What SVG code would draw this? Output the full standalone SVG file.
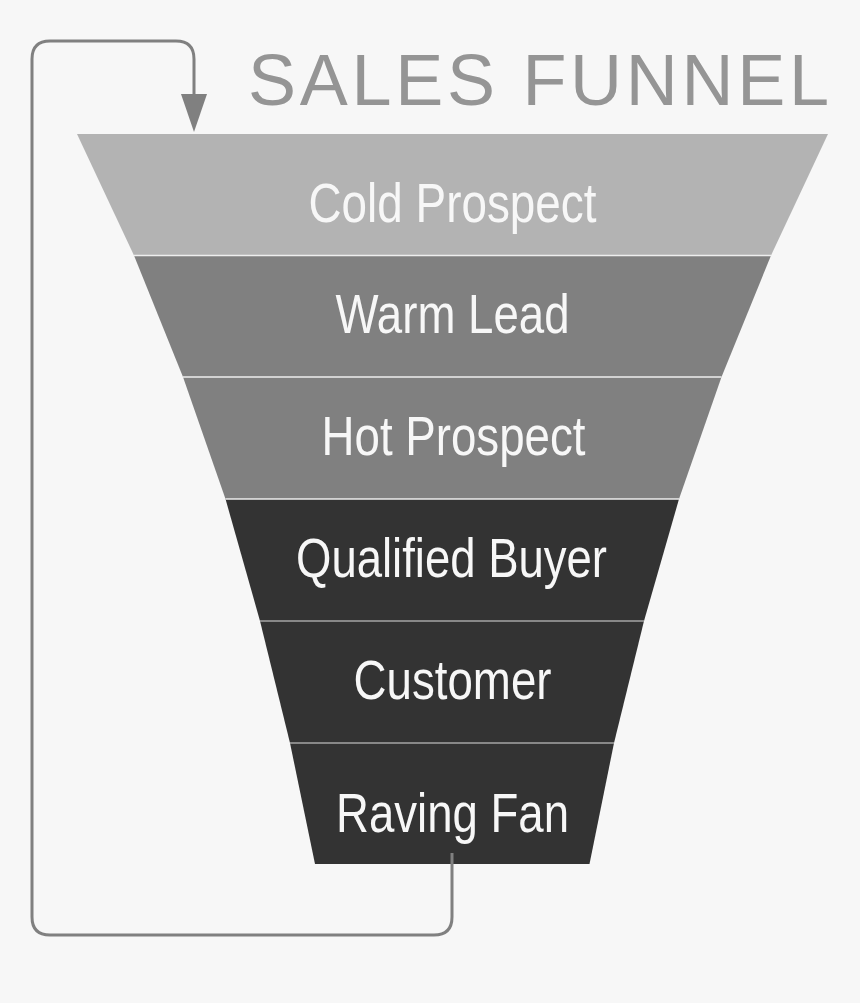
<svg xmlns="http://www.w3.org/2000/svg" width="860" height="1003" viewBox="0 0 860 1003">
<style>
.bg{fill:#f7f7f7}
.lbl{font-family:"Liberation Sans Narrow","Liberation Sans",Arial,sans-serif;font-size:56px;fill:#f7f7f7;text-anchor:middle}
.title{font-family:"Liberation Sans",Arial,sans-serif;font-size:72px;fill:#959595}
.light{fill:#b3b3b3}
.mid{fill:#808080}
.dark{fill:#333333}
.sepL{stroke:#eeeeee;stroke-width:1.5}
.sepD{stroke:#a6a6a6;stroke-width:1.5}
.conn{fill:none;stroke:#808080;stroke-width:3}
</style>
<defs>
<marker id="arrow" viewBox="0 0 38 26" refX="2" refY="13" markerWidth="38" markerHeight="26" markerUnits="userSpaceOnUse" orient="auto">
<path d="M0,0 L38,13 L0,26 z" fill="#808080"/>
</marker>
</defs>
<rect class="bg" x="0" y="0" width="860" height="1003"/>
<text id="title" class="title" x="248" y="105" textLength="581" lengthAdjust="spacing">SALES FUNNEL</text>
<g id="cold-prospect">
<polygon class="light" points="77,134 828,134 771,255.5 134,255.5"/>
<text class="lbl" x="452.5" y="222" textLength="288" lengthAdjust="spacingAndGlyphs">Cold Prospect</text>
</g>
<g id="warm-lead">
<polygon class="mid" points="134,255.5 771,255.5 721.5,377 183,377"/>
<text class="lbl" x="452.5" y="333" textLength="234" lengthAdjust="spacingAndGlyphs">Warm Lead</text>
</g>
<g id="hot-prospect">
<polygon class="mid" points="183,377 721.5,377 679,499 225.5,499"/>
<text class="lbl" x="453.5" y="455" textLength="264" lengthAdjust="spacingAndGlyphs">Hot Prospect</text>
</g>
<g id="qualified-buyer">
<polygon class="dark" points="225.5,499 679,499 644,621 260,621"/>
<text class="lbl" x="451.5" y="577" textLength="311" lengthAdjust="spacingAndGlyphs">Qualified Buyer</text>
</g>
<g id="customer">
<polygon class="dark" points="260,621 644,621 614,743 290,743"/>
<text class="lbl" x="452.5" y="699" textLength="198" lengthAdjust="spacingAndGlyphs">Customer</text>
</g>
<g id="raving-fan">
<polygon class="dark" points="290,743 614,743 589.5,864 315,864"/>
<text class="lbl" x="452.5" y="832" textLength="233" lengthAdjust="spacingAndGlyphs">Raving Fan</text>
</g>
<g id="separators">
<line class="sepL" x1="134" y1="255.5" x2="771" y2="255.5"/>
<line class="sepL" x1="183" y1="377" x2="721.5" y2="377"/>
<line class="sepL" x1="225.5" y1="499" x2="679" y2="499"/>
<line class="sepD" x1="260" y1="621" x2="644" y2="621"/>
<line class="sepD" x1="290" y1="743" x2="614" y2="743"/>
</g>
<g id="connectors">
<path class="conn" marker-end="url(#arrow)" d="M452,853 V917 Q452,935 434,935 H50 Q32,935 32,917 V59 Q32,41 50,41 H176 Q194,41 194,59 V96"/>
</g>
</svg>
